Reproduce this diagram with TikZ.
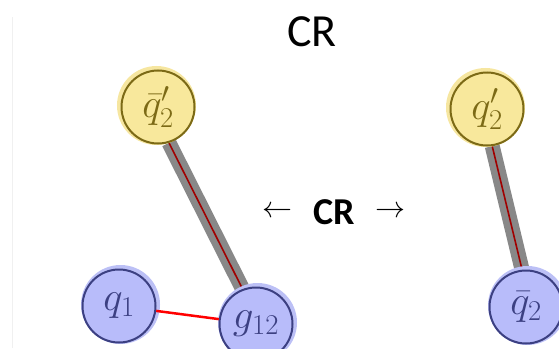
\RequirePackage{fix-cm}
\documentclass[tikz,border=0pt]{standalone}
\usepackage{fontspec}
\setsansfont{Carlito}
\usetikzlibrary{positioning,backgrounds}
\definecolor{ballblue}{HTML}{B8BCFA}
\definecolor{rimblue}{HTML}{3C4082}
\definecolor{haloblue}{HTML}{BCC0F6}
\definecolor{ballgold}{HTML}{F8E89C}
\definecolor{rimgold}{HTML}{7C6A16}
\definecolor{halogold}{HTML}{F6E6A0}
\definecolor{tubegray}{HTML}{888888}
\definecolor{tubered}{HTML}{A00000}
\begin{document}
\begin{tikzpicture}[x=1pt,y=-1pt,
    ball/.style={circle, minimum size=73pt, inner sep=0pt, line width=2pt,
        font=\fontsize{41}{44}\selectfont},
    blueball/.style={ball, fill=ballblue, draw=rimblue, text=rimblue,
        preaction={draw=haloblue, line width=6pt, transform canvas={xshift=1.5pt,yshift=1.5pt}}},
    goldball/.style={ball, fill=ballgold, draw=rimgold, text=rimgold,
        preaction={draw=halogold, line width=6pt, transform canvas={xshift=-1.5pt,yshift=1.5pt}}},
    tube/.style={draw=tubegray, line width=15pt},
    core/.style={draw=tubered, line width=1.6pt},
    glue/.style={draw=red, line width=2.5pt}]
    \useasboundingbox (0,0) rectangle (559,348);
    \draw[black!6] (12,17) -- (12,348);
    \node[font=\sffamily\fontsize{46}{48}\selectfont] (title) at (312,32) {CR};
    \node[font=\sffamily\bfseries\fontsize{38}{40}\selectfont, inner sep=0pt] (cr) at (334,212) {CR};
    \node[font=\fontsize{30}{32}\selectfont, inner sep=0pt, left=20pt of cr] (larr) {$\leftarrow$};
    \node[font=\fontsize{30}{32}\selectfont, inner sep=0pt, right=20pt of cr] (rarr) {$\rightarrow$};
    % left: diquark picture
    \node[goldball] (qbp) at (158,107) {$\bar{q}'_2$};
    \node[blueball] (q1) at (119,306) {$q_1$};
    \node[blueball] (g12) at (256,324) {$g_{12}$};
    % right: plain string
    \node[goldball] (qp) at (487,109) {$q'_2$};
    \node[blueball] (qb) at (526,307) {$\bar{q}_2$};
    \begin{scope}[on background layer]
        \draw[tube] (qbp.-73) -- (g12.111);
        \draw[core] (qbp.-73) -- (g12.111);
        \draw[tube] (qp.-82) -- (qb.96);
        \draw[core] (qp.-82) -- (qb.96);
    \end{scope}
    \draw[glue] (q1) -- (g12);
\end{tikzpicture}
\end{document}
